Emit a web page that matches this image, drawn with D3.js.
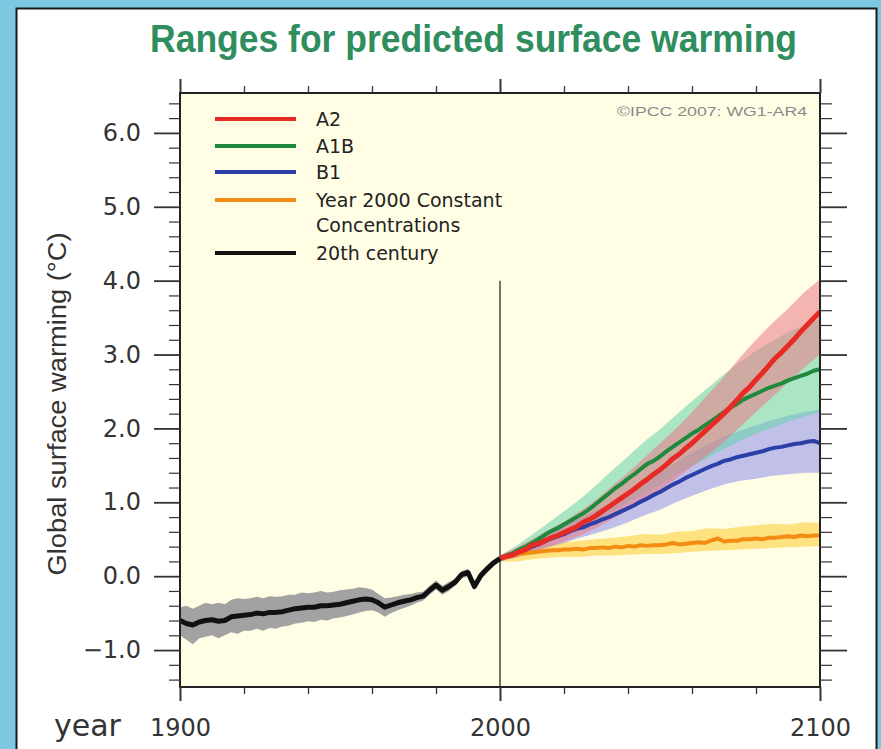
<!DOCTYPE html>
<html><head><meta charset="utf-8">
<script src="https://cdn.jsdelivr.net/npm/d3@7"></script>
<style>
html,body{margin:0;padding:0;background:#7cc8e0;}
svg{display:block;}
</style></head>
<body><svg id="chart" width="881" height="749"></svg>
<script>
// ---- 20th century observed/simulated record ----
const centuryYears = [1900,1902,1904,1906,1908,1910,1912,1914,1916,1918,1920,1922,1924,1926,1928,1930,1932,1934,1936,1938,1940,1942,1944,1946,1948,1950,1952,1954,1956,1958,1960,1962,1964,1966,1968,1970,1972,1974,1976,1978,1980,1982,1984,1986,1988,1990,1992,1994,1996,1998,2000];
const century = [-0.60,-0.64,-0.66,-0.62,-0.60,-0.59,-0.61,-0.60,-0.55,-0.54,-0.53,-0.52,-0.50,-0.51,-0.49,-0.49,-0.48,-0.46,-0.44,-0.43,-0.42,-0.42,-0.40,-0.40,-0.39,-0.38,-0.36,-0.34,-0.32,-0.31,-0.32,-0.36,-0.42,-0.39,-0.36,-0.34,-0.32,-0.29,-0.27,-0.19,-0.12,-0.19,-0.14,-0.08,0.02,0.05,-0.14,0.01,0.10,0.18,0.24];
const centuryHigh = [-0.42,-0.40,-0.44,-0.40,-0.36,-0.38,-0.36,-0.38,-0.32,-0.30,-0.31,-0.30,-0.28,-0.30,-0.27,-0.28,-0.27,-0.25,-0.25,-0.22,-0.23,-0.22,-0.20,-0.22,-0.21,-0.19,-0.18,-0.17,-0.15,-0.16,-0.18,-0.24,-0.30,-0.29,-0.27,-0.25,-0.24,-0.22,-0.21,-0.13,-0.06,-0.13,-0.08,-0.03,0.07,0.10,-0.09,0.06,0.15,0.22,0.27];
const centuryLow = [-0.80,-0.86,-0.92,-0.84,-0.82,-0.80,-0.84,-0.80,-0.76,-0.78,-0.74,-0.74,-0.71,-0.74,-0.70,-0.71,-0.68,-0.67,-0.64,-0.63,-0.61,-0.62,-0.59,-0.60,-0.57,-0.56,-0.54,-0.52,-0.49,-0.47,-0.46,-0.49,-0.55,-0.50,-0.46,-0.43,-0.40,-0.36,-0.33,-0.25,-0.18,-0.25,-0.20,-0.13,-0.03,0.00,-0.19,-0.04,0.05,0.14,0.21];

// ---- 21st century projections (multi-model means) ----
const projYears = [2000,2002,2004,2006,2008,2010,2012,2014,2016,2018,2020,2022,2024,2026,2028,2030,2032,2034,2036,2038,2040,2042,2044,2046,2048,2050,2052,2054,2056,2058,2060,2062,2064,2066,2068,2070,2072,2074,2076,2078,2080,2082,2084,2086,2088,2090,2092,2094,2096,2098,2100];
const seriesA2 = [0.24,0.27,0.29,0.33,0.36,0.42,0.44,0.48,0.52,0.55,0.59,0.63,0.67,0.73,0.77,0.82,0.88,0.94,1.00,1.06,1.12,1.18,1.25,1.31,1.38,1.44,1.51,1.59,1.65,1.73,1.80,1.88,1.96,2.04,2.12,2.20,2.29,2.38,2.48,2.56,2.66,2.75,2.85,2.95,3.03,3.12,3.21,3.31,3.40,3.49,3.58];
const seriesA1B = [0.24,0.28,0.31,0.36,0.40,0.45,0.50,0.56,0.61,0.65,0.70,0.75,0.80,0.85,0.91,0.98,1.05,1.12,1.19,1.25,1.32,1.38,1.45,1.52,1.56,1.62,1.69,1.75,1.81,1.87,1.93,1.98,2.04,2.10,2.16,2.22,2.28,2.33,2.39,2.43,2.47,2.51,2.55,2.58,2.61,2.65,2.68,2.71,2.74,2.78,2.80];
const seriesB1 = [0.24,0.27,0.29,0.33,0.36,0.40,0.43,0.47,0.51,0.54,0.57,0.61,0.64,0.66,0.70,0.73,0.77,0.80,0.84,0.88,0.92,0.96,1.01,1.05,1.10,1.14,1.19,1.24,1.28,1.33,1.37,1.41,1.45,1.49,1.52,1.56,1.58,1.61,1.63,1.65,1.67,1.69,1.72,1.74,1.75,1.77,1.79,1.80,1.82,1.83,1.80];
const seriesConst = [0.24,0.26,0.28,0.30,0.31,0.32,0.33,0.34,0.35,0.35,0.36,0.36,0.37,0.36,0.38,0.38,0.39,0.38,0.40,0.39,0.41,0.40,0.42,0.41,0.42,0.42,0.43,0.45,0.43,0.44,0.45,0.46,0.45,0.48,0.51,0.47,0.48,0.48,0.50,0.50,0.51,0.50,0.52,0.52,0.53,0.54,0.53,0.55,0.54,0.55,0.55];

// ---- +/- 1 standard deviation ranges ----
const bandYears = [2000,2005,2010,2015,2020,2025,2030,2035,2040,2045,2050,2055,2060,2065,2070,2075,2080,2085,2090,2095,2100];
const a2High = [0.28,0.38,0.50,0.62,0.74,0.88,1.03,1.22,1.40,1.60,1.80,2.00,2.22,2.46,2.70,2.96,3.20,3.42,3.62,3.84,4.02];
const a2Low = [0.20,0.26,0.33,0.40,0.47,0.55,0.65,0.77,0.89,1.03,1.17,1.32,1.48,1.64,1.82,2.02,2.22,2.42,2.62,2.82,3.00];
const a1bHigh = [0.28,0.41,0.56,0.72,0.88,1.04,1.23,1.43,1.62,1.82,1.99,2.18,2.37,2.55,2.73,2.90,3.05,3.18,3.30,3.40,3.48];
const a1bLow = [0.20,0.27,0.36,0.46,0.55,0.64,0.75,0.88,1.00,1.12,1.24,1.37,1.49,1.60,1.72,1.83,1.93,2.01,2.09,2.16,2.22];
const b1High = [0.28,0.37,0.48,0.59,0.69,0.79,0.89,1.00,1.12,1.25,1.40,1.54,1.67,1.79,1.89,1.97,2.04,2.11,2.17,2.22,2.26];
const b1Low = [0.20,0.25,0.32,0.39,0.45,0.52,0.58,0.65,0.73,0.82,0.90,1.00,1.09,1.17,1.24,1.29,1.32,1.36,1.38,1.40,1.40];
const constHigh = [0.28,0.34,0.40,0.44,0.46,0.48,0.50,0.52,0.54,0.57,0.56,0.60,0.61,0.65,0.64,0.67,0.69,0.71,0.70,0.73,0.72];
const constLow = [0.20,0.20,0.23,0.25,0.26,0.26,0.28,0.28,0.29,0.30,0.30,0.31,0.33,0.34,0.35,0.36,0.37,0.38,0.39,0.40,0.41];

// ---- axes ----
const xMajorTicks = [1900, 2000, 2100];
const xMinorTicks = [1920, 1940, 1960, 1980, 2020, 2040, 2060, 2080];
const yMajorTicks = [-1, 0, 1, 2, 3, 4, 5, 6];
const yMinorTicks = [-1.4,-1.2,-0.8,-0.6,-0.4,-0.2,0.2,0.4,0.6,0.8,1.2,1.4,1.6,1.8,2.2,2.4,2.6,2.8,3.2,3.4,3.6,3.8,4.2,4.4,4.6,4.8,5.2,5.4,5.6,5.8,6.2,6.4];

const legendLabels = [["A2"], ["A1B"], ["B1"], ["Year 2000 Constant", "Concentrations"], ["20th century"]];
const legendColors = ["#e82a24", "#1f8a3e", "#2b3fa6", "#f28c12", "#111111"];

const svg = d3.select("#chart");
const plot = {left: 180, right: 820, top: 93, bottom: 687};

const x = d3.scaleLinear().domain([1900, 2100]).range([plot.left, plot.right]);
const y = d3.scaleLinear().domain([-1.5, 6.54]).range([plot.bottom, plot.top]);

// white panel with dark frame
svg.append("rect").attr("x", 16.5).attr("y", 8.5).attr("width", 860).attr("height", 800)
  .attr("fill", "#ffffff").attr("stroke", "#1a1a1a").attr("stroke-width", 2);

// title
svg.append("text").attr("x", 150).attr("y", 52)
  .attr("textLength", 647).attr("lengthAdjust", "spacingAndGlyphs")
  .attr("font-family", "'Liberation Sans Narrow','Arial Narrow','Liberation Sans',Arial,sans-serif")
  .attr("font-weight", "bold").attr("font-size", 39).attr("fill", "#2f8d5e")
  .text("Ranges for predicted surface warming");

// plot background
svg.append("rect").attr("x", plot.left).attr("y", plot.top)
  .attr("width", plot.right - plot.left).attr("height", plot.bottom - plot.top)
  .attr("fill", "#fffee5");

svg.append("defs").append("clipPath").attr("id", "plotClip")
  .append("rect").attr("x", plot.left).attr("y", plot.top)
  .attr("width", plot.right - plot.left).attr("height", plot.bottom - plot.top);

const g = svg.append("g").attr("clip-path", "url(#plotClip)");

const area = (yrs, lo, hi) => d3.area()
  .x((d, i) => x(yrs[i])).y0((d, i) => y(lo[i])).y1((d, i) => y(hi[i]))(yrs);
const line = (yrs, vals) => d3.line()
  .x((d, i) => x(yrs[i])).y((d, i) => y(vals[i]))(yrs);

// uncertainty bands
g.append("path").attr("d", area(centuryYears, centuryLow, centuryHigh)).attr("fill", "#a2a2a2");
g.append("path").attr("d", area(bandYears, constLow, constHigh)).attr("fill", "#ffd85e").attr("fill-opacity", 0.75);
g.append("path").attr("d", area(bandYears, b1Low, b1High)).attr("fill", "rgb(140,140,235)").attr("fill-opacity", 0.55);
g.append("path").attr("d", area(bandYears, a1bLow, a1bHigh)).attr("fill", "rgb(100,210,170)").attr("fill-opacity", 0.55);
g.append("path").attr("d", area(bandYears, a2Low, a2High)).attr("fill", "rgb(235,120,135)").attr("fill-opacity", 0.55);

// year 2000 divider
g.append("line").attr("x1", x(2000)).attr("x2", x(2000)).attr("y1", y(4)).attr("y2", plot.bottom)
  .attr("stroke", "#444").attr("stroke-width", 1.5);

// mean curves
const curves = [
  [projYears, seriesConst, legendColors[3], 4],
  [projYears, seriesB1, legendColors[2], 4],
  [projYears, seriesA1B, legendColors[1], 4],
  [projYears, seriesA2, legendColors[0], 5],
  [centuryYears, century, legendColors[4], 5]
];
curves.forEach(([yrs, vals, col, w]) => {
  g.append("path").attr("d", line(yrs, vals)).attr("fill", "none")
    .attr("stroke", col).attr("stroke-width", w).attr("stroke-linejoin", "round");
});

// frame
svg.append("rect").attr("x", plot.left).attr("y", plot.top)
  .attr("width", plot.right - plot.left).attr("height", plot.bottom - plot.top)
  .attr("fill", "none").attr("stroke", "#222").attr("stroke-width", 2);

const styleAxis = (sel, w) => {
  sel.select(".domain").remove();
  sel.selectAll(".tick line").attr("stroke", "#333").attr("stroke-width", w);
};
const tickFont = "'DejaVu Sans',Verdana,sans-serif";

// bottom axis
svg.append("g").attr("transform", `translate(0,${plot.bottom})`)
  .call(d3.axisBottom(x).tickValues(xMinorTicks).tickSize(7).tickFormat(""))
  .call(s => styleAxis(s, 1.3));
svg.append("g").attr("transform", `translate(0,${plot.bottom})`)
  .call(d3.axisBottom(x).tickValues(xMajorTicks).tickSize(14).tickPadding(18).tickFormat(d3.format("d")))
  .call(s => styleAxis(s, 2))
  .call(s => s.selectAll("text").attr("font-family", tickFont).attr("font-size", 24).attr("fill", "#333"));

// top axis
svg.append("g").attr("transform", `translate(0,${plot.top})`)
  .call(d3.axisTop(x).tickValues(xMinorTicks).tickSize(7).tickFormat(""))
  .call(s => styleAxis(s, 1.3));
svg.append("g").attr("transform", `translate(0,${plot.top})`)
  .call(d3.axisTop(x).tickValues(xMajorTicks).tickSize(14).tickFormat(""))
  .call(s => styleAxis(s, 2));

// left axis
svg.append("g").attr("transform", `translate(${plot.left},0)`)
  .call(d3.axisLeft(y).tickValues(yMinorTicks).tickSize(11).tickFormat(""))
  .call(s => styleAxis(s, 1.2));
svg.append("g").attr("transform", `translate(${plot.left},0)`)
  .call(d3.axisLeft(y).tickValues(yMajorTicks).tickSize(26).tickPadding(13).tickFormat(d3.format(".1f")))
  .call(s => styleAxis(s, 1.8))
  .call(s => s.selectAll("text").attr("font-family", tickFont).attr("font-size", 24).attr("fill", "#333"));

// right axis
svg.append("g").attr("transform", `translate(${plot.right},0)`)
  .call(d3.axisRight(y).tickValues(yMinorTicks).tickSize(12).tickFormat(""))
  .call(s => styleAxis(s, 1.2));
svg.append("g").attr("transform", `translate(${plot.right},0)`)
  .call(d3.axisRight(y).tickValues(yMajorTicks).tickSize(27).tickFormat(""))
  .call(s => styleAxis(s, 1.8));

// axis titles
svg.append("text").attr("x", 54).attr("y", 736)
  .attr("font-family", tickFont).attr("font-size", 30).attr("fill", "#333").text("year");
svg.append("text").attr("transform", "translate(66,404) rotate(-90)")
  .attr("text-anchor", "middle").attr("textLength", 343).attr("lengthAdjust", "spacingAndGlyphs")
  .attr("font-family", "'Liberation Sans',Arial,sans-serif").attr("font-size", 25).attr("fill", "#333")
  .text("Global surface warming (°C)");

// copyright note
svg.append("text").attr("x", 617).attr("y", 116).attr("textLength", 190).attr("lengthAdjust", "spacingAndGlyphs")
  .attr("font-family", "'Liberation Sans',Arial,sans-serif").attr("font-size", 12).attr("fill", "#8a8a8a")
  .text("©IPCC 2007: WG1-AR4");

// legend
const legendRows = [119, 146, 172, 200, 253];
const legend = svg.append("g");
legendLabels.forEach((lines, i) => {
  const ly = legendRows[i];
  legend.append("line").attr("x1", 215).attr("x2", 296).attr("y1", ly).attr("y2", ly)
    .attr("stroke", legendColors[i]).attr("stroke-width", 4);
  lines.forEach((t, j) => {
    legend.append("text").attr("x", 316).attr("y", ly + 7 + j * 25)
      .attr("font-family", tickFont).attr("font-size", 19).attr("fill", "#222").text(t);
  });
});
</script>
</body></html>
